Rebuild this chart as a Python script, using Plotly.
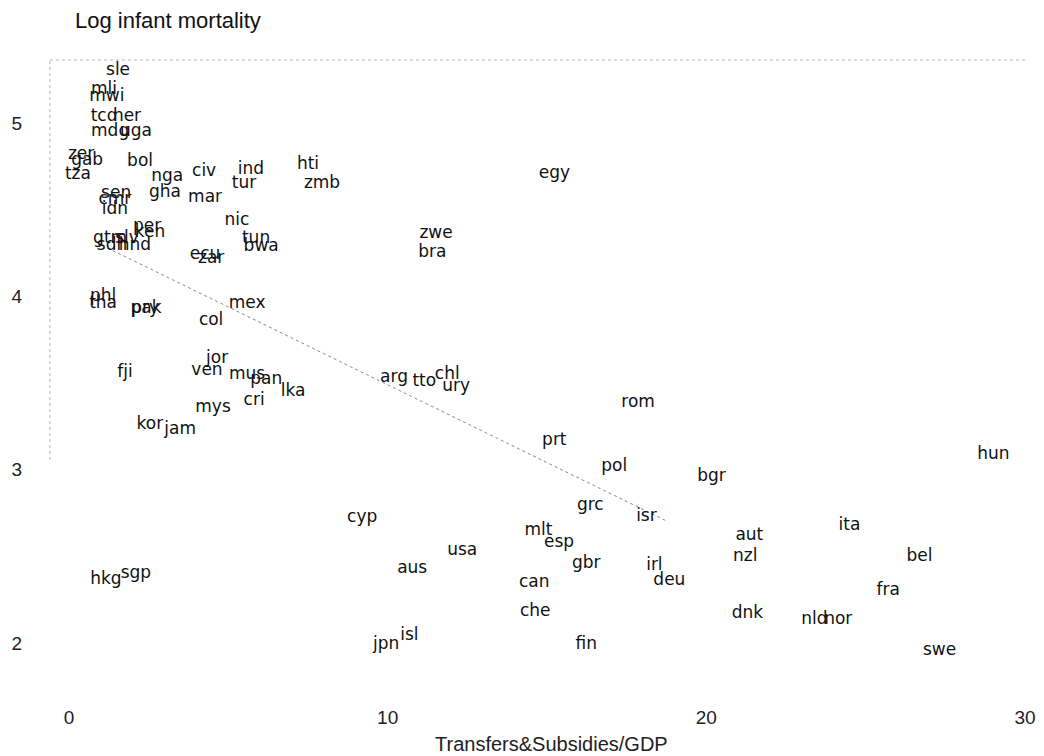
import plotly.graph_objects as go

countries = ["sle","mli","mwi","tcd","ner","mdg","uga","zer","gab","bol","tza","nga","civ","ind","tur",
             "hti","zmb","egy","sen","cmr","idn","gha","mar","nic","per","ken","gtm","slv","sdn","hnd",
             "tun","bwa","zwe","bra","ecu","zar","phl","tha","pry","pak","mex","col","jor","fji","ven",
             "mus","pan","lka","cri","mys","kor","jam","arg","tto","chl","ury","rom","prt","pol","bgr",
             "hun","grc","isr","cyp","mlt","esp","usa","aus","gbr","irl","deu","can","che","jpn","isl",
             "fin","aut","ita","nzl","bel","fra","dnk","nld","nor","swe","hkg","sgp"]
transfers = [1.54,1.10,1.19,1.10,1.82,1.29,2.10,0.38,0.57,2.23,0.28,3.08,4.24,5.71,5.49,
             7.50,7.94,15.23,1.48,1.44,1.44,3.01,4.27,5.27,2.45,2.54,1.29,1.82,1.35,2.07,
             5.87,6.03,11.52,11.40,4.27,4.46,1.07,1.07,2.39,2.42,5.59,4.46,4.65,1.76,4.33,
             5.59,6.19,7.03,5.81,4.52,2.54,3.49,10.20,11.15,11.87,12.15,17.86,15.23,17.11,20.16,
             29.01,16.36,18.12,9.20,14.73,15.38,12.34,10.77,16.23,18.37,18.84,14.60,14.63,9.95,10.68,
             16.23,21.35,24.49,21.22,26.69,25.71,21.29,23.39,24.14,27.32,1.16,2.10]
log_mort = [5.30,5.19,5.15,5.035,5.035,4.95,4.95,4.815,4.78,4.775,4.70,4.69,4.72,4.73,4.65,
            4.76,4.65,4.71,4.59,4.556,4.50,4.60,4.567,4.435,4.40,4.365,4.33,4.33,4.29,4.29,
            4.33,4.285,4.36,4.25,4.24,4.215,4.00,3.955,3.93,3.93,3.955,3.857,3.64,3.557,3.57,
            3.55,3.52,3.448,3.40,3.355,3.257,3.23,3.53,3.505,3.55,3.477,3.384,3.17,3.015,2.957,
            3.084,2.79,2.727,2.72,2.646,2.58,2.53,2.426,2.46,2.444,2.357,2.35,2.18,1.99,2.04,
            1.988,2.617,2.675,2.496,2.496,2.30,2.167,2.132,2.132,1.953,2.363,2.40]

fit_x = [1.2, 18.8]
fit_y = [4.28, 2.70]

x_ticks = [0, 10, 20, 30]
y_ticks = [2, 3, 4, 5]

fig = go.Figure()
fig.add_trace(go.Scatter(x=fit_x, y=fit_y, mode="lines",
                         line=dict(color="#8a8a8a", width=1, dash="dot"),
                         hoverinfo="skip", showlegend=False, cliponaxis=False))
fig.add_trace(go.Scatter(x=transfers, y=log_mort, mode="text", text=countries,
                         textposition="middle center", cliponaxis=False,
                         textfont=dict(family="DejaVu Sans", size=17, color="#111111"),
                         showlegend=False))

# faint frame lines (top and left) as in the scanned original
fig.add_shape(type="line", xref="paper", yref="paper", x0=-0.02, x1=1.0, y0=1.0, y1=1.0,
              line=dict(color="#b4b4b4", width=1, dash="dot"))
fig.add_shape(type="line", xref="paper", yref="paper", x0=-0.02, x1=-0.02, y0=0.365, y1=1.0,
              line=dict(color="#b4b4b4", width=1, dash="dot"))

# x-axis title
fig.add_annotation(text="Transfers&Subsidies/GDP", xref="paper", yref="paper",
                   x=0.505, y=-0.085, xanchor="center", yanchor="middle", showarrow=False,
                   font=dict(family="Liberation Sans Narrow, Liberation Sans", size=20, color="#222222"))

fig.update_layout(
    width=1036, height=748,
    paper_bgcolor="white", plot_bgcolor="white",
    margin=dict(l=61, r=19, t=52, b=66, autoexpand=False),
    title=dict(text="Log infant mortality", x=0, xref="paper", xanchor="left",
               y=0.983, yanchor="middle",
               font=dict(family="Liberation Sans", size=22, color="#111111"), pad=dict(l=6)),
    xaxis=dict(range=[0, 30], tickvals=x_ticks, showgrid=False, zeroline=False, showline=False,
               automargin=False,
               ticks="outside", ticklen=10, tickcolor="white",
               tickfont=dict(family="Liberation Sans", size=19, color="#222222")),
    yaxis=dict(range=[1.729, 5.364], tickvals=y_ticks, showgrid=False, zeroline=False, showline=False,
               automargin=False,
               ticks="outside", ticklen=42, tickcolor="white",
               tickfont=dict(family="Liberation Sans", size=19, color="#222222")),
)

fig.write_html("out.html")
